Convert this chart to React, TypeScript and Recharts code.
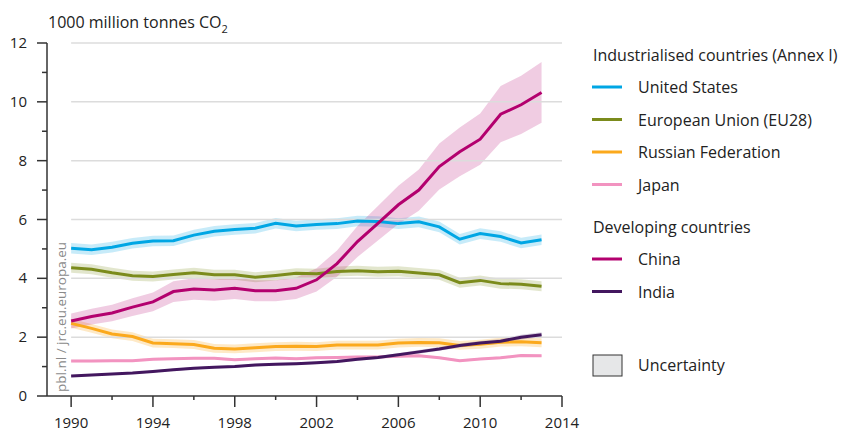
import React from 'react';
import {
    Area,
    ComposedChart,
    Line,
    ReferenceLine,
    XAxis,
    YAxis,
} from 'recharts';

const years = [1990, 1991, 1992, 1993, 1994, 1995, 1996, 1997, 1998, 1999, 2000, 2001, 2002, 2003, 2004, 2005, 2006, 2007, 2008, 2009, 2010, 2011, 2012, 2013];

const unitedStates = [5.02, 4.97, 5.06, 5.19, 5.27, 5.28, 5.47, 5.6, 5.66, 5.7, 5.87, 5.78, 5.83, 5.86, 5.95, 5.93, 5.86, 5.92, 5.75, 5.33, 5.52, 5.42, 5.2, 5.31];
const europeanUnion = [4.36, 4.31, 4.19, 4.09, 4.06, 4.13, 4.19, 4.12, 4.12, 4.04, 4.1, 4.17, 4.16, 4.23, 4.26, 4.22, 4.24, 4.18, 4.12, 3.85, 3.93, 3.82, 3.8, 3.73];
const russia = [2.47, 2.3, 2.11, 2.02, 1.8, 1.78, 1.75, 1.62, 1.6, 1.64, 1.68, 1.69, 1.68, 1.73, 1.73, 1.73, 1.8, 1.82, 1.81, 1.72, 1.76, 1.83, 1.84, 1.81];
const japan = [1.19, 1.19, 1.2, 1.2, 1.25, 1.27, 1.28, 1.28, 1.23, 1.27, 1.29, 1.27, 1.3, 1.31, 1.33, 1.33, 1.35, 1.37, 1.3, 1.2, 1.26, 1.3, 1.38, 1.37];
const china = [2.55, 2.7, 2.82, 3.02, 3.2, 3.55, 3.64, 3.6, 3.66, 3.58, 3.58, 3.66, 3.95, 4.5, 5.25, 5.87, 6.5, 7.0, 7.8, 8.3, 8.73, 9.58, 9.9, 10.32];
const india = [0.68, 0.71, 0.75, 0.78, 0.83, 0.89, 0.94, 0.98, 1.0, 1.05, 1.08, 1.1, 1.13, 1.17, 1.25, 1.31, 1.4, 1.5, 1.6, 1.72, 1.8, 1.86, 2.0, 2.08];

// uncertainty half-width (absolute, or relative for china/india)
const usSpread = 0.18;
const euSpread = 0.17;
const russiaSpread = 0.15;
const japanSpread = 0.04;
const chinaSpreadPct = 0.1;
const indiaSpreadPct = 0.04;

const xTicks = [1990, 1992, 1994, 1996, 1998, 2000, 2002, 2004, 2006, 2008, 2010, 2012, 2014];
const xLabels = [1990, 1994, 1998, 2002, 2006, 2010, 2014];
const yTicks = [0, 1, 2, 3, 4, 5, 6, 7, 8, 9, 10, 11, 12];
const yLabels = [0, 2, 4, 6, 8, 10, 12];
const gridValues = [2, 4, 6, 8, 10, 12];

const industrialised = [
    { name: 'United States', color: '#00a6e4' },
    { name: 'European Union (EU28)', color: '#7b8b1c' },
    { name: 'Russian Federation', color: '#fba91d' },
    { name: 'Japan', color: '#f293c0' },
];
const developing = [
    { name: 'China', color: '#b3006e' },
    { name: 'India', color: '#43175f' },
];

const FONT = '"Open Sans", sans-serif';
const AXIS = '#333';

const data = years.map((year, i) => ({
    year,
    us: unitedStates[i],
    eu: europeanUnion[i],
    ru: russia[i],
    jp: japan[i],
    cn: china[i],
    in: india[i],
    usBand: [unitedStates[i] - usSpread, unitedStates[i] + usSpread],
    euBand: [europeanUnion[i] - euSpread, europeanUnion[i] + euSpread],
    ruBand: [russia[i] - russiaSpread, russia[i] + russiaSpread],
    jpBand: [japan[i] - japanSpread, japan[i] + japanSpread],
    cnBand: [china[i] * (1 - chinaSpreadPct), china[i] * (1 + chinaSpreadPct)],
    inBand: [india[i] * (1 - indiaSpreadPct), india[i] * (1 + indiaSpreadPct)],
}));

function XTick(props: any) {
    const { x, payload } = props;
    const v = payload.value;
    const major = xLabels.includes(v);
    return (
        <g>
            <line x1={x} x2={x} y1={396} y2={major ? 407 : 400} stroke={AXIS} strokeWidth={1.5} />
            {major && (
                <text x={x} y={428} textAnchor="middle" fontFamily={FONT} fontSize={15} fill="#222">
                    {v}
                </text>
            )}
        </g>
    );
}

function YTick(props: any) {
    const { y, payload } = props;
    const v = payload.value;
    const major = yLabels.includes(v);
    return (
        <g>
            <line x1={major ? 37 : 42} x2={47} y1={y} y2={y} stroke={AXIS} strokeWidth={1.5} />
            {major && (
                <text x={27} y={y + 5} textAnchor="end" fontFamily={FONT} fontSize={15} fill="#222">
                    {v}
                </text>
            )}
        </g>
    );
}

function LegendRow({ y, color, label }: { y: number; color: string; label: string }) {
    return (
        <g>
            <line x1={592} x2={622} y1={y} y2={y} stroke={color} strokeWidth={3} />
            <text x={638} y={y + 6} fontFamily={FONT} fontSize={16} fill="#222">{label}</text>
        </g>
    );
}

function Overlay() {
    return (
        <svg width={842} height={434} style={{ position: 'absolute', left: 0, top: 0, pointerEvents: 'none' }}>
            <text x={48} y={28} fontFamily={FONT} fontSize={16} fill="#222">
                1000 million tonnes CO<tspan dy={5} fontSize={11}>2</tspan>
            </text>
            <text
                transform="translate(66,392) rotate(-90)"
                fontFamily={FONT}
                fontSize={13.5}
                fill="#8a8a8a"
            >
                pbl.nl / jrc.eu.europa.eu
            </text>
            <text x={593} y={61} fontFamily={FONT} fontSize={16} fill="#222">Industrialised countries (Annex I)</text>
            {industrialised.map((d, i) => (
                <LegendRow key={d.name} y={87 + i * 32.5} color={d.color} label={d.name} />
            ))}
            <text x={593} y={233} fontFamily={FONT} fontSize={16} fill="#222">Developing countries</text>
            {developing.map((d, i) => (
                <LegendRow key={d.name} y={259 + i * 32.5} color={d.color} label={d.name} />
            ))}
            <rect x={593} y={355} width={29} height={21} fill="#e6e7e8" stroke="#333" strokeWidth={1} />
            <text x={638} y={371} fontFamily={FONT} fontSize={16} fill="#222">Uncertainty</text>
        </svg>
    );
}

export default function App() {
    return (
        <div style={{ position: 'absolute', left: 0, top: 0, width: 842, height: 434, background: '#fff' }}>
            <ComposedChart
                width={842}
                height={434}
                data={data}
                margin={{ top: 43, right: 280, bottom: 0, left: 0 }}
            >
                <XAxis
                    dataKey="year"
                    type="number"
                    domain={[1988.82, 2014]}
                    ticks={xTicks}
                    tick={<XTick />}
                    tickLine={false}
                    axisLine={{ stroke: AXIS, strokeWidth: 1.5 }}
                    height={38}
                    interval={0}
                />
                <YAxis
                    type="number"
                    domain={[0, 12]}
                    ticks={yTicks}
                    tick={<YTick />}
                    tickLine={false}
                    axisLine={{ stroke: AXIS, strokeWidth: 1.5 }}
                    width={47}
                    interval={0}
                />
                {gridValues.map((g) => (
                    <ReferenceLine
                        key={g}
                        segment={[{ x: 1990, y: g }, { x: 2014, y: g }]}
                        stroke="#dcdcdc"
                        strokeWidth={1.5}
                    />
                ))}
                <Area dataKey="usBand" type="linear" stroke="none" fill="#00a6e4" fillOpacity={0.22} isAnimationActive={false} />
                <Area dataKey="euBand" type="linear" stroke="none" fill="#7b8b1c" fillOpacity={0.22} isAnimationActive={false} />
                <Area dataKey="ruBand" type="linear" stroke="none" fill="#fba91d" fillOpacity={0.25} isAnimationActive={false} />
                <Area dataKey="jpBand" type="linear" stroke="none" fill="#f293c0" fillOpacity={0.25} isAnimationActive={false} />
                <Area dataKey="cnBand" type="linear" stroke="none" fill="#b3006e" fillOpacity={0.2} isAnimationActive={false} />
                <Area dataKey="inBand" type="linear" stroke="none" fill="#43175f" fillOpacity={0.2} isAnimationActive={false} />
                <Line dataKey="us" type="linear" stroke="#00a6e4" strokeWidth={3} dot={false} isAnimationActive={false} />
                <Line dataKey="eu" type="linear" stroke="#7b8b1c" strokeWidth={3} dot={false} isAnimationActive={false} />
                <Line dataKey="ru" type="linear" stroke="#fba91d" strokeWidth={3} dot={false} isAnimationActive={false} />
                <Line dataKey="jp" type="linear" stroke="#f293c0" strokeWidth={3} dot={false} isAnimationActive={false} />
                <Line dataKey="cn" type="linear" stroke="#b3006e" strokeWidth={3} dot={false} isAnimationActive={false} />
                <Line dataKey="in" type="linear" stroke="#43175f" strokeWidth={3} dot={false} isAnimationActive={false} />
            </ComposedChart>
            <Overlay />
        </div>
    );
}
